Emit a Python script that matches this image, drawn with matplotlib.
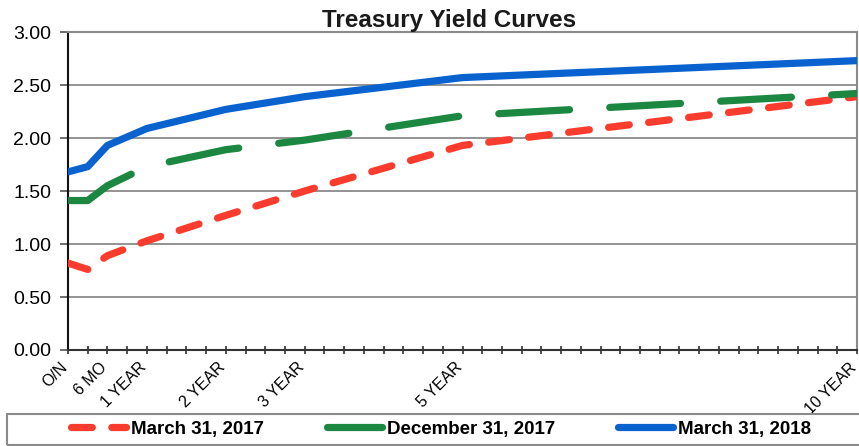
import numpy as np
import matplotlib
matplotlib.use("Agg")
import matplotlib.pyplot as plt
import matplotlib.transforms as mtransforms
from matplotlib.patches import Rectangle

plt.rcParams['font.family'] = ['Liberation Sans', 'DejaVu Sans']
plt.rcParams['lines.scale_dashes'] = False

# tenor positions measured in quarters from overnight
quarters = [0, 1, 2, 4, 8, 12, 20, 40]
tick_q = [0, 2, 4, 8, 12, 20, 40]
tick_labels = ['O/N', '6 MO', '1 YEAR', '2 YEAR', '3 YEAR', '5 YEAR', '10 YEAR']

mar17 = [0.82, 0.76, 0.89, 1.03, 1.27, 1.50, 1.93, 2.39]
dec17 = [1.41, 1.41, 1.55, 1.73, 1.89, 1.98, 2.21, 2.42]
mar18 = [1.68, 1.73, 1.93, 2.09, 2.27, 2.39, 2.57, 2.73]

series = ['March 31, 2017', 'December 31, 2017', 'March 31, 2018']

W, H = 859, 446
fig = plt.figure(figsize=(W / 100, H / 100), dpi=100)
ax = fig.add_axes([68 / W, 1 - 350 / H, (857 - 68) / W, (350 - 32) / H])

lw = 5.2
l1, = ax.plot(quarters, mar17, color='#FA3C2E', lw=lw, solid_capstyle='round',
              dash_capstyle='round', dashes=(15, 14), label=series[0], zorder=3)
l2, = ax.plot(quarters, dec17, color='#1C8740', lw=lw, solid_capstyle='round',
              dash_capstyle='round', dashes=(51, 29), label=series[1], zorder=4)
l3, = ax.plot(quarters, mar18, color='#0A62CF', lw=lw, solid_capstyle='round',
              label=series[2], zorder=5)

ax.set_xlim(0, 40)
ax.set_ylim(0, 3)
ax.set_yticks(np.arange(0, 3.01, 0.5))
ax.set_yticklabels(['%.2f' % v for v in np.arange(0, 3.01, 0.5)], fontsize=14)
ax.set_xticks(tick_q)
ax.set_xticks(np.arange(0, 41), minor=True)
ax.tick_params(axis='x', which='both', direction='inout', length=6, width=1.2,
               color='#333333', pad=4)
ax.tick_params(axis='y', length=6, width=1.2, color='#555555', pad=6)
ax.set_xticklabels(tick_labels, fontsize=11.5, rotation=45, ha='right',
                   rotation_mode='anchor')
shift = mtransforms.ScaledTranslation(-8 / 100, 0, fig.dpi_scale_trans)
for lab in ax.get_xticklabels():
    lab.set_transform(lab.get_transform() + shift)
ax.grid(axis='y', color='#8a8a8a', lw=1.3)
ax.set_axisbelow(True)

for s in ['top', 'right']:
    ax.spines[s].set_color('#8a8a8a')
    ax.spines[s].set_linewidth(1.5)
ax.spines['left'].set_color('#111111')
ax.spines['left'].set_linewidth(1.5)
ax.spines['bottom'].set_color('#333333')
ax.spines['bottom'].set_linewidth(1.5)

fig.text(449 / W, 1 - 27 / H, 'Treasury Yield Curves', fontsize=17.5,
         fontweight='bold', ha='center', va='baseline', color='#1a1a1a')

# legend box, running off the right edge as in the scan
fig.patches.append(Rectangle((7 / W, 1 / H), 1.0, 31 / H, transform=fig.transFigure,
                             fill=False, edgecolor='#8a8a8a', lw=1.5))
fig.legend(handles=[l1, l2, l3], loc='center left',
           bbox_to_anchor=(62 / W, 1 - 429 / H), ncol=3, frameon=False,
           prop={'weight': 'bold', 'size': 13.5}, handlelength=2.9,
           handletextpad=0.3, columnspacing=3.35, borderpad=0)

fig.savefig('out.png', dpi=100)
